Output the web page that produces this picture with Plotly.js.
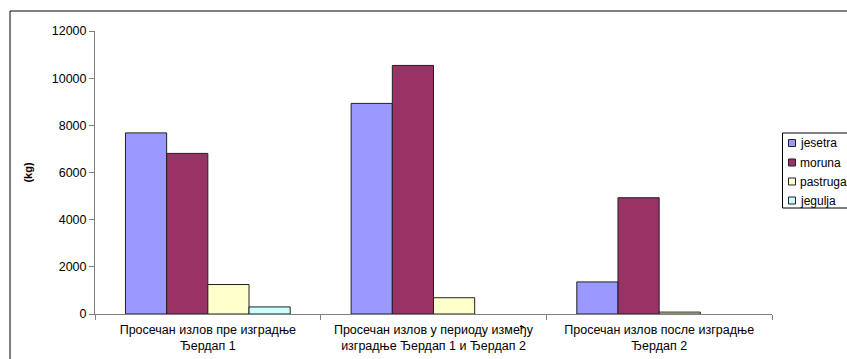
<!DOCTYPE html>
<html>
<head>
<meta charset="utf-8">
<script src="https://cdn.plot.ly/plotly-3.0.1.min.js"></script>
<style>
  html, body { margin: 0; padding: 0; background: #fff; }
  #chart { width: 847px; height: 359px; }
</style>
</head>
<body>
<div id="chart"></div>
<script>
// Average catch (kg) of sturgeon species in three periods of the Đerdap dams
const periods = [
  'Просечан излов пре изградње<br>Ђердап 1',
  'Просечан излов у периоду између<br>изградње Ђердап 1 и Ђердап 2',
  'Просечан излов после изградње<br>Ђердап 2'
];
const jesetra  = [7680, 8930, 1360];
const moruna   = [6810, 10540, 4930];
const pastruga = [1250, 690, 80];
const jegulja  = [300, null, null];

const seriesNames  = ['jesetra', 'moruna', 'pastruga', 'jegulja'];
const seriesValues = [jesetra, moruna, pastruga, jegulja];
const seriesColors = ['#9999FF', '#993366', '#FFFFCC', '#CCFFFF'];

const yTicks = [0, 2000, 4000, 6000, 8000, 10000, 12000];

const FONT = 'Liberation Sans, Arial, sans-serif';

const traces = seriesNames.map((name, i) => ({
  type: 'bar',
  name: name,
  x: periods,
  y: seriesValues[i],
  marker: { color: seriesColors[i], line: { color: '#202020', width: 1 } },
  showlegend: false
}));

// Plot-area geometry in pixels, used to place the boxed legend on the paper
const W = 847, H = 359;
const M = { l: 95, r: 75, t: 31, b: 45 };
const pw = W - M.l - M.r, ph = H - M.t - M.b;
const px = v => (v - M.l) / pw;
const py = v => (H - M.b - v) / ph;

const shapes = [
  // outer chart frame
  { type: 'rect', xref: 'paper', yref: 'paper',
    x0: px(10), x1: px(900), y0: py(380), y1: py(11),
    line: { color: '#000', width: 1 }, fillcolor: 'rgba(0,0,0,0)', layer: 'below' },
  // legend box
  { type: 'rect', xref: 'paper', yref: 'paper',
    x0: px(782.5), x1: px(900), y0: py(208), y1: py(133),
    line: { color: '#000', width: 1 }, fillcolor: '#fff', layer: 'below' }
];
const annotations = [];
const rowY = [143, 162.5, 181.5, 200.5];
seriesNames.forEach((name, i) => {
  const cy = rowY[i];
  shapes.push({ type: 'rect', xref: 'paper', yref: 'paper',
    x0: px(788.5), x1: px(795.5), y0: py(cy + 3.5), y1: py(cy - 3.5),
    line: { color: '#202020', width: 1 }, fillcolor: seriesColors[i] });
  annotations.push({ xref: 'paper', yref: 'paper', x: px(798), y: py(cy),
    xanchor: 'left', yanchor: 'middle', showarrow: false, text: name,
    font: { family: FONT, size: 12, color: '#000' } });
});

const layout = {
  width: W,
  height: H,
  margin: { l: M.l, r: M.r, t: M.t, b: M.b, autoexpand: false },
  paper_bgcolor: '#fff',
  plot_bgcolor: '#fff',
  font: { family: FONT, size: 12, color: '#000' },
  barmode: 'group',
  bargap: 0.27,
  bargroupgap: 0,
  showlegend: false,
  xaxis: {
    type: 'category',
    showline: true, linecolor: '#808080', linewidth: 1,
    ticks: 'outside', tickson: 'boundaries', ticklen: 5, tickcolor: '#808080',
    ticklabelstandoff: 4,
    showgrid: false, zeroline: false,
    tickfont: { family: FONT, size: 12.5, color: '#000' },
    fixedrange: true
  },
  yaxis: {
    range: [0, 12000],
    tickvals: yTicks,
    ticktext: yTicks.map(String),
    showline: true, linecolor: '#808080', linewidth: 1,
    ticks: 'outside', ticklen: 5, tickcolor: '#808080',
    showgrid: false, zeroline: false,
    tickfont: { family: FONT, size: 12.5, color: '#000' },
    title: { text: '<b>(kg)</b>', font: { family: FONT, size: 11, color: '#000' }, standoff: 16 },
    fixedrange: true
  },
  shapes: shapes,
  annotations: annotations
};

Plotly.newPlot('chart', traces, layout, { displayModeBar: false, staticPlot: true });
</script>
</body>
</html>
